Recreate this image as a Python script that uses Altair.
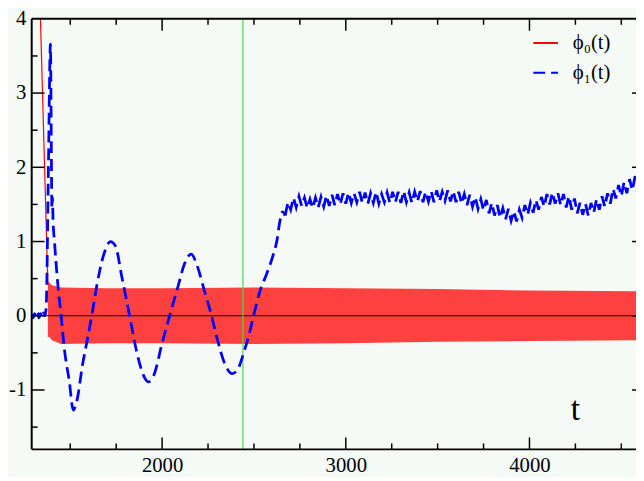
import altair as alt
import pandas as pd

# ---------------- data ----------------
# phi_1(t) (blue dashed): transient part
phi1_t = [1290, 1298, 1306, 1314, 1322, 1330, 1338, 1346, 1354, 1362,
          1369, 1381, 1392, 1397, 1400, 1403, 1406, 1414, 1432, 1450,
          1468, 1495, 1516, 1539, 1566, 1593, 1617, 1647, 1683, 1719,
          1746, 1781, 1823, 1862, 1898, 1925, 1961, 1996, 2041, 2086,
          2122, 2158, 2194, 2230, 2265, 2301, 2337, 2382, 2418, 2445,
          2472, 2498, 2534, 2570, 2606, 2624, 2641, 2655, 2670]
phi1_v = [0.02, -0.03, 0.03, -0.02, 0.04, -0.03, 0.03, -0.02, 0.04, 0.0,
          0.12, 2.0, 3.66, 2.2, 1.45, 1.6, 1.3, 1.0, 0.43, 0.0,
          -0.45, -0.89, -1.27, -1.11, -0.67, -0.32, 0.0, 0.44, 0.83, 1.0,
          0.94, 0.52, 0.0, -0.49, -0.8, -0.89, -0.76, -0.41, 0.0, 0.39,
          0.7, 0.83, 0.65, 0.34, 0.04, -0.32, -0.62, -0.78, -0.69, -0.49,
          -0.27, 0.0, 0.34, 0.57, 0.83, 1.0, 1.27, 1.40, 1.35]

# phi_1(t): noisy plateau, sampled every 15 time units from t = 2670
plateau_start = 2670
plateau_step = 15
plateau_v = [
    1.35, 1.53, 1.43, 1.59, 1.46, 1.61, 1.48, 1.59, 1.45, 1.57,
    1.45, 1.59, 1.46, 1.60, 1.47, 1.62, 1.48, 1.63, 1.49, 1.64,
    1.50, 1.65, 1.51, 1.66, 1.52, 1.65, 1.53, 1.67, 1.52, 1.66,
    1.51, 1.65, 1.52, 1.67, 1.51, 1.64, 1.53, 1.66, 1.52, 1.67,
    1.53, 1.67, 1.52, 1.68, 1.53, 1.66, 1.52, 1.67, 1.54, 1.68,
    1.53, 1.67, 1.54, 1.68, 1.53, 1.69, 1.54, 1.67, 1.55, 1.69,
    1.54, 1.68, 1.53, 1.67, 1.51, 1.64, 1.49, 1.63, 1.47, 1.60,
    1.44, 1.57, 1.42, 1.56, 1.38, 1.52, 1.35, 1.49, 1.32, 1.45,
    1.30, 1.44, 1.28, 1.41, 1.27, 1.43, 1.32, 1.49, 1.36, 1.52,
    1.39, 1.56, 1.43, 1.60, 1.47, 1.64, 1.50, 1.66, 1.51, 1.65,
    1.49, 1.64, 1.46, 1.61, 1.43, 1.58, 1.38, 1.52, 1.36, 1.51,
    1.35, 1.52, 1.39, 1.57, 1.43, 1.61, 1.47, 1.65, 1.51, 1.71,
    1.58, 1.76, 1.61, 1.80, 1.65, 1.84, 1.69, 1.88, 1.76,
]

# phi_0(t) (red): steep initial drop, then fast oscillation (drawn by its envelope)
phi0_t = [1323, 1378]
phi0_v = [5.3, 0.42]
env_t = [1378, 1385, 1400, 1450, 1700, 2000, 2500, 3000, 3500, 4000, 4580]
env_hi = [0.45, 0.45, 0.41, 0.38, 0.37, 0.37, 0.38, 0.37, 0.36, 0.34, 0.33]
env_lo = [-0.29, -0.28, -0.33, -0.38, -0.37, -0.37, -0.38, -0.37, -0.35, -0.34, -0.33]

green_t = [2440]
zero_v = [0]

x_labels = [2000, 3000, 4000]
x_minor = [1500, 1750, 2250, 2500, 2750, 3250, 3500, 3750, 4250, 4500]
y_labels = [-1, 0, 1, 2, 3, 4]
y_major = [-1, 0, 1, 2, 3]
y_minor = [-1.5, -0.5, 0.5, 1.5, 2.5, 3.5]

series_names = ["ϕ₀(t)", "ϕ₁(t)"]
t_label = {"t": [4250], "v": [-1.27], "txt": ["t"]}

X_DOMAIN = [1290, 4580]
Y_DOMAIN = [-1.8, 4]
W, H = 612, 436
SERIF = "Liberation Serif"

# ---------------- build tables ----------------
plateau_t = [plateau_start + plateau_step * i for i in range(len(plateau_v))]
smooth_df = pd.DataFrame({
    "t": phi0_t + phi1_t,
    "v": phi0_v + phi1_v,
    "series": [series_names[0]] * len(phi0_t) + [series_names[1]] * len(phi1_t),
})
plateau_df = pd.DataFrame({"t": plateau_t, "v": plateau_v,
                           "series": [series_names[1]] * len(plateau_t)})
env_df = pd.DataFrame({"t": env_t, "hi": env_hi, "lo": env_lo})

xs = alt.Scale(domain=X_DOMAIN, nice=False, zero=False)
ys = alt.Scale(domain=Y_DOMAIN, nice=False, zero=False)


def X(field, main=False):
    if main:
        return alt.X(field, scale=xs, title=None,
                     axis=alt.Axis(values=x_labels, title=None, labelPadding=5, format="d"))
    return alt.X(field, scale=xs, title=None)


def Y(field, main=False):
    if main:
        return alt.Y(field, scale=ys, title=None,
                     axis=alt.Axis(values=y_labels, title=None, labelPadding=6,
                                   labelExpr="toString(datum.value)"))
    return alt.Y(field, scale=ys, title=None)


one = pd.DataFrame({"a": [0]})

band = alt.Chart(env_df).mark_area(color="#ff0000", opacity=0.74, clip=True).encode(
    x=X("t:Q", True),
    y=Y("hi:Q", True),
    y2="lo:Q",
)

zero_line = alt.Chart(pd.DataFrame({"v": zero_v})).mark_rule(color="black", strokeWidth=1.2).encode(
    y=Y("v:Q"))

green_line = alt.Chart(pd.DataFrame({"t": green_t})).mark_rule(color="#44dd44", strokeWidth=1.2).encode(
    x=X("t:Q"))

legend = alt.Legend(orient="none", legendX=507, legendY=11, title=None,
                    symbolType="stroke", symbolSize=625, symbolStrokeWidth=2,
                    labelFont=SERIF, labelFontSize=21, labelColor="black",
                    labelOffset=14, rowPadding=6, padding=0)

color_enc = alt.Color("series:N",
                      scale=alt.Scale(domain=series_names, range=["#ff0000", "#0000ff"]),
                      legend=legend)
dash_enc = alt.StrokeDash("series:N",
                          scale=alt.Scale(domain=series_names, range=[[1, 0], [12, 6]]),
                          legend=legend)
width_enc = alt.condition(alt.datum.series == series_names[0], alt.value(1.2), alt.value(2.8))

lines = alt.Chart(smooth_df).mark_line(clip=True, interpolate="monotone").encode(
    x=X("t:Q"), y=Y("v:Q"), color=color_enc, strokeDash=dash_enc,
    strokeWidth=width_enc, order="t:Q",
)

plateau_line = alt.Chart(plateau_df).mark_line(clip=True).encode(
    x=X("t:Q"), y=Y("v:Q"), color=color_enc, strokeDash=dash_enc,
    strokeWidth=width_enc, order="t:Q",
)

t_text = alt.Chart(pd.DataFrame(t_label)).mark_text(
    font=SERIF, fontSize=34, color="black", align="center", baseline="middle").encode(
    x=X("t:Q"), y=Y("v:Q"), text="txt:N")


# ticks (drawn inward, as in the original)
def xticks(vals, length, top):
    df = pd.DataFrame({"t": vals})
    if top:
        enc = dict(y=alt.value(0), y2=alt.value(length))
    else:
        enc = dict(y=alt.value(H), y2=alt.value(H - length))
    return alt.Chart(df).mark_rule(color="black", strokeWidth=1.5).encode(x=X("t:Q"), **enc)


def yticks(vals, x0, x1):
    df = pd.DataFrame({"v": vals})
    return alt.Chart(df).mark_rule(color="black", strokeWidth=1.5).encode(
        y=Y("v:Q"), x=alt.value(x0), x2=alt.value(x1))


ticks = [
    xticks(x_labels, 12, False), xticks(x_minor, 6, False),
    xticks(x_labels, 12, True), xticks(x_minor, 6, True),
    yticks(y_major, 0, 13), yticks(y_minor, 0, 6),
    yticks(y_major, W - 4, W),
]

frame = [
    alt.Chart(one).mark_rule(color="black", strokeWidth=2).encode(
        x=alt.value(0), y=alt.value(0), y2=alt.value(H)),
    alt.Chart(one).mark_rule(color="black", strokeWidth=2).encode(
        x=alt.value(0), x2=alt.value(W), y=alt.value(0)),
    alt.Chart(one).mark_rule(color="black", strokeWidth=2).encode(
        x=alt.value(0), x2=alt.value(W), y=alt.value(H)),
]

chart = alt.layer(band, zero_line, green_line, lines, plateau_line, t_text, *ticks, *frame).properties(
    width=W, height=H,
    padding={"left": 24, "top": 8, "right": 0, "bottom": 25},
    autosize=alt.AutoSizeParams(type="none"),
    background="#f5faf7",
).configure_view(stroke=None).configure_axis(
    ticks=False, domain=False, grid=False,
    labelFont=SERIF, labelFontSize=21, labelColor="black",
)

chart.save("out.html", embed_options={"renderer": "svg", "actions": False})
